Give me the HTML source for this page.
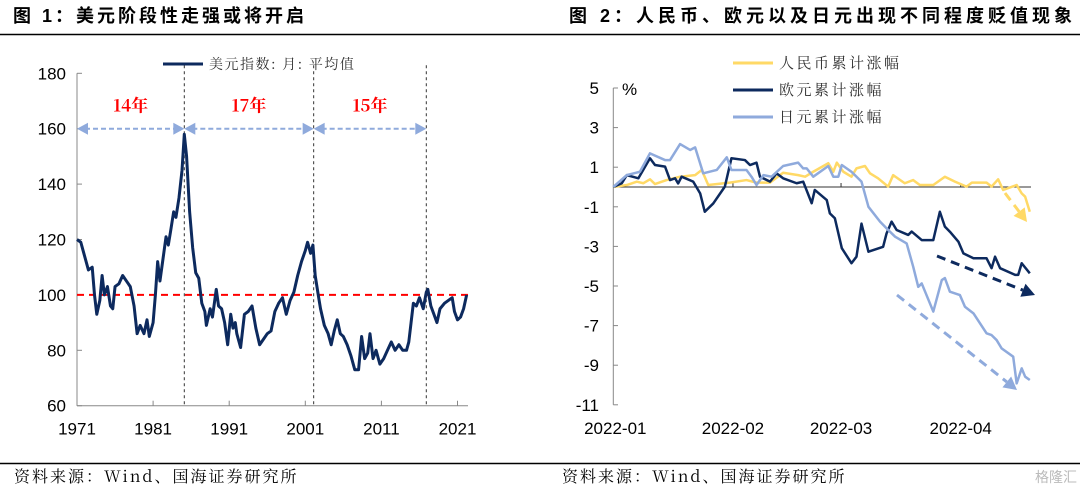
<!DOCTYPE html>
<html><head><meta charset="utf-8"><style>
body{margin:0;background:#fff;width:1080px;height:496px;overflow:hidden}
svg{display:block;font-family:"Liberation Sans","Noto Sans CJK SC",sans-serif}
.cn{font-family:"Noto Serif CJK SC","Noto Sans CJK SC",serif}
</style></head><body>
<svg id="s" width="1080" height="496" viewBox="0 0 1080 496">
<text x="13" y="22" font-size="18" font-weight="bold" letter-spacing="3">图 1：美元阶段性走强或将开启</text>
<text x="1076" y="22" font-size="18" font-weight="bold" letter-spacing="4" text-anchor="end">图 2：人民币、欧元以及日元出现不同程度贬值现象</text>
<line x1="0" y1="34.5" x2="1080" y2="34.5" stroke="#000" stroke-width="1.5"/>
<line x1="0" y1="463.5" x2="1080" y2="463.5" stroke="#000" stroke-width="1.5"/>
<text x="14" y="482" font-size="16" letter-spacing="2" class="cn">资料来源：Wind、国海证券研究所</text>
<text x="562" y="482" font-size="16" letter-spacing="2" class="cn">资料来源：Wind、国海证券研究所</text>
<text x="1077" y="482" font-size="14" fill="#bbb" text-anchor="end">格隆汇</text>
<g id="left"></g>
<g id="right"></g>
</svg>
<script>
// ---- Left chart data ----
const usdYears=[1971,1971.5,1972,1972.5,1973,1973.3,1973.6,1974,1974.3,1974.6,1975,1975.4,1975.7,1976,1976.5,1977,1977.5,1978,1978.5,1978.9,1979.3,1979.8,1980.2,1980.5,1981,1981.3,1981.6,1981.9,1982.3,1982.7,1983,1983.3,1983.7,1984,1984.4,1984.8,1985.1,1985.4,1985.8,1986.2,1986.6,1987,1987.4,1987.8,1988,1988.5,1988.8,1989.3,1989.6,1990,1990.4,1990.8,1991.2,1991.5,1991.8,1992,1992.5,1993,1993.5,1994,1994.5,1995,1995.5,1996,1996.5,1997,1997.5,1998,1998.5,1999,1999.5,2000,2000.5,2001,2001.3,2001.7,2002,2002.3,2002.7,2003,2003.5,2004,2004.4,2004.8,2005.2,2005.6,2006,2006.5,2007,2007.5,2008,2008.4,2008.8,2009.2,2009.5,2009.9,2010.3,2010.8,2011.3,2011.8,2012.3,2012.8,2013.3,2013.8,2014.3,2014.6,2014.9,2015.2,2015.6,2016,2016.5,2016.9,2017.1,2017.5,2017.9,2018.3,2018.7,2019.3,2019.8,2020.3,2020.6,2021,2021.4,2021.8,2022.2];
const usdValues=[120,119,114,109,110,100,93,98,107,100,103,96,95,103,104,107,105,103,96,86,89,86,91,85,90,100,112,105,113,121,118,123,130,128,135,145,158,150,130,117,108,106,97,94,89,95,92,102,96,95,90,82,93,88,90,86,81,93,94,96,88,82,84,86,87,94,97,99,93,98,101,107,112,116,119,115,118,107,100,95,89,86,82,87,91,86,85,82,78,73,73,85,77,79,86,77,80,75,77,80,83,80,82,80,80,83,90,97,96,99,95,101,102,96,93,90,95,97,98,99,94,91,92,95,100];
const usdYTicks=[60,80,100,120,140,160,180];
const usdXTicks=[1971,1981,1991,2001,2011,2021];
const cycleBounds=[1971,1985.1,2002.1,2016.9];
const cycleLabels=["14年","17年","15年"];

// ---- Right chart data ----
const cnyDays=[0,3.5,6.1,7.8,9.5,10.8,13.8,17.3,21.2,22.9,24.6,30.2,34.5,37.1,40.6,44,47.9,49.7,51.8,55.7,57,57.9,59.6,61.7,63,65.2,66.5,68.6,71.2,72.5,75.5,77.7,79.4,82.9,85.9,88.5,91.5,92.9,96.7,98,99.7,101,104.5,105.8,106.7,107.9];
const cnyValues=[0,0.1,0.27,0.19,0.39,0.15,0.35,0.52,0.6,0.86,0.1,0.22,0.35,0.22,0.22,0.72,0.6,0.52,0.77,1.2,0.77,1.23,0.77,0.52,0.94,1.06,0.69,0.44,0.02,0.6,0.19,0.35,0.1,0.1,0.52,0.27,0.02,0.22,0.22,0.02,0.39,-0.15,0.1,-0.32,-0.49,-1.25];
const eurDays=[0,2.2,3.5,6.5,9.5,10.8,13.4,14.7,16,16.8,17.7,20.7,22.5,23.7,25.9,28.9,30.6,34.1,35.4,37.1,38,40.6,42.3,44,47.5,49.2,51.4,52.2,55.3,56.1,57.4,59.2,61.7,63,64.3,66.1,69.9,70.8,72.1,73.4,76.4,77.3,79.9,82.9,84.6,85.9,87.2,89.4,90.7,93.3,96.7,98,98.9,100.2,104.1,104.9,105.8,107.9];
const eurValues=[0,0.19,0.6,0.44,1.45,1.11,1.03,0.35,0.44,0.18,0.52,0.27,-0.32,-1.25,-0.83,0.02,1.45,1.36,1.11,1.23,0.52,0.27,0.69,0.44,0.19,0.27,-0.82,-0.15,-0.66,-1.33,-1.58,-3.09,-3.85,-3.52,-1.85,-3.27,-3.02,-2.34,-1.75,-2.17,-2.42,-2.25,-2.68,-2.68,-1.25,-2.0,-2.26,-2.76,-3.35,-3.6,-3.6,-4.1,-3.52,-4.1,-4.44,-4.44,-3.85,-4.36];
const jpyDays=[0,3.5,6.9,9.5,13.4,14.7,17.3,19.9,21.2,23.3,26.8,29.4,30.6,34.5,35.8,37.1,38.9,41,44,47.9,49.2,50.1,51.8,55.7,57,58.3,59.2,61.7,64.3,66.1,69.1,70.8,73,76,77.7,79,79.9,82.9,85.1,85.9,87.2,89.8,91.1,93.3,96.7,98,99.3,100.6,103.6,104.5,105.8,106.7,107.9];
const jpyValues=[0,0.6,0.77,1.7,1.36,1.36,2.17,1.87,2.0,0.69,0.86,1.5,0.86,0.86,0.52,0.1,0.6,0.52,1.06,1.23,0.94,0.94,0.52,1.06,0.52,0.52,1.11,0.77,0.27,-1.0,-1.75,-2.09,-2.51,-2.85,-4.03,-5.04,-4.87,-6.29,-4.7,-4.6,-5.29,-5.46,-6.05,-6.38,-7.39,-7.48,-7.73,-8.15,-8.57,-9.92,-9.16,-9.58,-9.75];
const fxYTicks=[5,3,1,-1,-3,-5,-7,-9,-11];
const fxMonthDays=[0,31,59,90];
const fxMonthLabels=["2022-01","2022-02","2022-03","2022-04"];

const NS="http://www.w3.org/2000/svg";
function mk(parent,tag,attrs,text){const e=document.createElementNS(NS,tag);for(const k in attrs)e.setAttribute(k,attrs[k]);if(text!=null)e.textContent=text;parent.appendChild(e);return e;}

// Left chart
const L=document.getElementById('left');
const lx=y=>77+(y-1971)*7.61;
const ly=v=>405.7-(v-60)*2.77;
let el=mk(L,'line',{x1:77,y1:ly(180),x2:77,y2:ly(60),stroke:'#888','stroke-width':1});


el=mk(L,'line',{x1:77,y1:ly(60),x2:468,y2:ly(60),stroke:'#888','stroke-width':1});


usdYTicks.forEach(t=>{
  mk(L,'line',{x1:77,y1:ly(t),x2:82,y2:ly(t),stroke:'#888'});
  el=mk(L,'text',{x:66,y:ly(t)+6,'font-size':17,'text-anchor':'end'},t);
  
  
});
usdXTicks.forEach(t=>{
  mk(L,'line',{x1:lx(t),y1:ly(60),x2:lx(t),y2:ly(60)-5,stroke:'#888'});
  el=mk(L,'text',{x:lx(t),y:ly(60)+29,'font-size':17,'text-anchor':'middle'},t);
  
  
});
el=mk(L,'line',{x1:77,y1:ly(100),x2:468,y2:ly(100),stroke:'#f00','stroke-width':2,'stroke-dasharray':'7,5'});


cycleBounds.slice(1).forEach(b=>{
  el=mk(L,'line',{x1:lx(b),y1:ly(180)-8,x2:lx(b),y2:ly(60),stroke:'#333','stroke-width':1,'stroke-dasharray':'3,3'});
  
  
});
const arY=ly(160);
for(let i=0;i<3;i++){
  const a=lx(cycleBounds[i]),b=lx(cycleBounds[i+1]);
  el=mk(L,'line',{x1:a+8,y1:arY,x2:b-8,y2:arY,stroke:'#8faadc','stroke-width':2,'stroke-dasharray':'5,3'});
  
  
  mk(L,'polygon',{points:`${a},${arY} ${a+11},${arY-6} ${a+11},${arY+6}`,fill:'#8faadc'});
  mk(L,'polygon',{points:`${b},${arY} ${b-11},${arY-6} ${b-11},${arY+6}`,fill:'#8faadc'});
  el=mk(L,'text',{x:(a+b)/2,y:arY-17,'font-size':17,'font-weight':'bold',fill:'#f00','text-anchor':'middle',class:'cn'},cycleLabels[i]);
  
  
}
el=mk(L,'polyline',{points:usdYears.map((y,i)=>lx(y)+','+ly(usdValues[i])).join(' '),fill:'none',stroke:'#0d2a5e','stroke-width':3,'stroke-linejoin':'round'});


mk(L,'line',{x1:163,y1:64,x2:203,y2:64,stroke:'#0d2a5e','stroke-width':3});
el=mk(L,'text',{x:209,y:69,'font-size':14,fill:'#333','letter-spacing':1.5,class:'cn'},'美元指数: 月: 平均值');



// Right chart
const R=document.getElementById('right');
const rx=d=>613.3+d*3.86;
const ry=v=>187-v*19.8;
el=mk(R,'line',{x1:613.3,y1:ry(5),x2:613.3,y2:ry(-11),stroke:'#888'});


el=mk(R,'line',{x1:613.3,y1:ry(0),x2:1031,y2:ry(0),stroke:'#333'});


fxYTicks.forEach(t=>{
  mk(R,'line',{x1:613.3,y1:ry(t),x2:618,y2:ry(t),stroke:'#888'});
  el=mk(R,'text',{x:599,y:ry(t)+6,'font-size':17,'text-anchor':'end'},t);
  
  
});
fxMonthDays.forEach((d,i)=>{
  if(i>0)mk(R,'line',{x1:rx(d),y1:ry(0),x2:rx(d),y2:ry(0)-4,stroke:'#333'});
  el=mk(R,'text',{x:rx(d)+(i==0?2:0),y:434,'font-size':17,'text-anchor':'middle'},fxMonthLabels[i]);
  
  
});
el=mk(R,'text',{x:622,y:95,'font-size':17},'%');


const series=[[cnyDays,cnyValues,'#ffd966','cny-line','人民币累计涨幅'],[eurDays,eurValues,'#0d2a5e','eur-line','欧元累计涨幅'],[jpyDays,jpyValues,'#8faadc','jpy-line','日元累计涨幅']];
series.forEach((s,i)=>{
  el=mk(R,'polyline',{points:s[0].map((d,j)=>rx(d)+','+ry(s[1][j])).join(' '),fill:'none',stroke:s[2],'stroke-width':2.5,'stroke-linejoin':'round'});
  
  
});
[0,1,2].forEach(i=>{
  const s=series[i];const y=63+i*27;
  mk(R,'line',{x1:733,y1:y,x2:773,y2:y,stroke:s[2],'stroke-width':3});
  el=mk(R,'text',{x:779,y:y+5,'font-size':15,fill:'#333','letter-spacing':2.5,class:'cn'},s[4]);
  
  
});
// trend arrows (annotations)
[[1005,193,1027,222,'#ffd966'],[937,256,1035,295,'#0d2a5e'],[897,295,1017,390,'#8faadc']].forEach(a=>{
  const [x1,y1,x2,y2,c]=a;const ang=Math.atan2(y2-y1,x2-x1);const L2=13,W=7;
  const bx=x2-L2*Math.cos(ang),by=y2-L2*Math.sin(ang);
  el=mk(R,'line',{x1:x1,y1:y1,x2:bx,y2:by,stroke:c,'stroke-width':3,'stroke-dasharray':'9,6'});
  
  
  mk(R,'polygon',{points:`${x2},${y2} ${bx+W*Math.sin(ang)},${by-W*Math.cos(ang)} ${bx-W*Math.sin(ang)},${by+W*Math.cos(ang)}`,fill:c});
});
</script>
</body></html>
